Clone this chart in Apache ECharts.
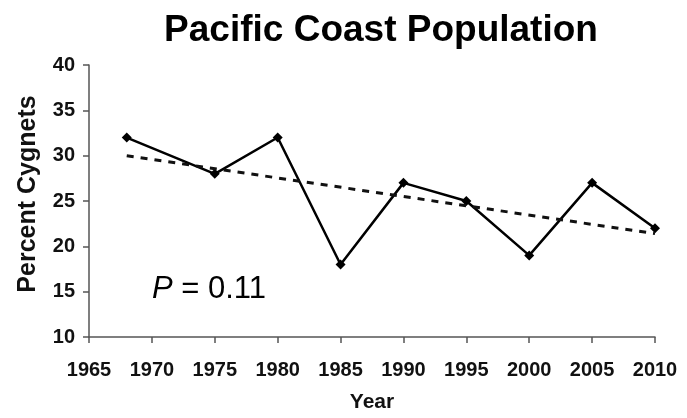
<!DOCTYPE html>
<html>
<head>
<meta charset="utf-8">
<script src="https://cdn.jsdelivr.net/npm/echarts@6/dist/echarts.min.js"></script>
<style>html,body{margin:0;padding:0;background:#fff}#c{width:687px;height:418px}</style>
</head>
<body>
<div id="c"></div>
<script>
var years = [1968, 1975, 1980, 1985, 1990, 1995, 2000, 2005, 2010];
var percentCygnets = [32, 28, 32, 18, 27, 25, 19, 27, 22];
var trendYears = [1968, 2010];
var trendValues = [30.0, 21.4];
var titleText = 'Pacific Coast Population';
var xName = 'Year';
var yName = 'Percent Cygnets';

var font = '"Liberation Sans", Arial, Helvetica, sans-serif';
var chart = echarts.init(document.getElementById('c'), null, {renderer: 'canvas'});
var axisCommon = {
  axisLine: {show: true, lineStyle: {color: '#555', width: 1.5}},
  axisTick: {show: true, inside: false, length: 6, lineStyle: {color: '#555', width: 1.5}},
  splitLine: {show: false}
};
chart.setOption({
  animation: false,
  backgroundColor: '#fff',
  title: {
    text: titleText, left: 376, top: 7, textAlign: 'center',
    textStyle: {fontFamily: font, fontWeight: 'bold', fontSize: 37, color: '#000'}
  },
  grid: {left: 89, right: 32, top: 65, bottom: 77},
  xAxis: Object.assign({}, axisCommon, {
    type: 'value', min: 1965, max: 2010, interval: 5,
    name: xName, nameLocation: 'middle', nameGap: 55,
    nameTextStyle: {fontFamily: font, fontWeight: 'bold', fontSize: 21, color: '#111'},
    axisLabel: {fontFamily: font, fontWeight: 'bold', fontSize: 20, color: '#111', margin: 23, formatter: function(v){return String(v);}}
  }),
  yAxis: Object.assign({}, axisCommon, {
    type: 'value', min: 10, max: 40, interval: 5,
    name: yName, nameLocation: 'middle', nameGap: 48,
    nameTextStyle: {fontFamily: font, fontWeight: 'bold', fontSize: 25, color: '#111', padding: [0, 0, 0, 14]},
    axisLabel: {fontFamily: font, fontWeight: 'bold', fontSize: 20, color: '#111', margin: 14}
  }),
  series: [
    {
      type: 'line',
      data: years.map(function(y, i){return [y, percentCygnets[i]];}),
      symbol: 'diamond', symbolSize: 10,
      lineStyle: {color: '#000', width: 2.5},
      itemStyle: {color: '#000'},
      z: 3
    },
    {
      type: 'line',
      data: trendYears.map(function(y, i){return [y, trendValues[i]];}),
      symbol: 'none',
      lineStyle: {color: '#111', width: 3, type: [7, 7]},
      z: 4
    }
  ],
  graphic: [{
    type: 'text', left: 152, top: 274,
    style: {
      text: '{p|P} = 0.11',
      rich: {p: {fontStyle: 'italic', fontFamily: font, fontSize: 31, fill: '#000'}},
      fontFamily: font, fontSize: 31, fill: '#000'
    }
  }]
});
</script>
</body>
</html>
